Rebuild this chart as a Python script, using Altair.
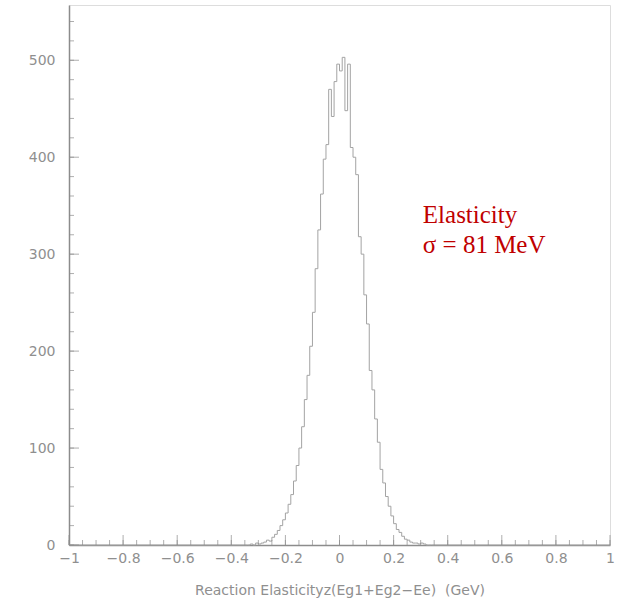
import altair as alt
import numpy as np
import pandas as pd

# Histogram: left bin edges (GeV) and counts, bin width 0.01
bin_left = [round(-0.35 + 0.01 * i, 2) for i in range(71)]
counts = [
    0, 0, 1, 0, 2, 1, 2, 3, 5, 4,
    8, 11, 15, 20, 26, 33, 42, 52, 66, 82,
    100, 122, 150, 175, 205, 240, 285, 325, 362, 398,
    413, 470, 442, 478, 496, 489, 503, 448, 496, 410,
    400, 382, 318, 300, 258, 228, 180, 160, 130, 106,
    78, 64, 50, 40, 30, 22, 16, 13, 9, 6,
    5, 3, 2, 2, 1, 2, 1, 0, 0, 0,
    0,
]

x_major = [-1, -0.8, -0.6, -0.4, -0.2, 0, 0.2, 0.4, 0.6, 0.8, 1]
y_major = [0, 100, 200, 300, 400, 500]
x_minor = [round(-1 + 0.05 * i, 2) for i in range(41)]
y_minor = [20 * i for i in range(28)]

ann_x = [0.308, 0.308]
ann_y = [332, 301]
ann_text = ["Elasticity", "σ = 81 MeV"]

W, H = 541, 540
GRAY = "#8c8c8c"
LBL = "#8f8f8f"
FONT = "DejaVu Sans"

hist = pd.DataFrame({"x": [-1.0] + bin_left + [1.0], "y": [0] + counts + [0]})
xs = alt.Scale(domain=[-1, 1], nice=False, zero=False)
ys = alt.Scale(domain=[0, 557], nice=False)

line = alt.Chart(hist).mark_line(interpolate="step-after", color="#a3a3a3", strokeWidth=1).encode(
    x=alt.X("x:Q", scale=xs, axis=alt.Axis(
        values=x_major, ticks=False, grid=False, domainColor=GRAY, domainWidth=1.5,
        labelColor=LBL, labelFont=FONT, labelFontSize=14, labelPadding=6,
        labelExpr="replace(format(datum.value, ''), '-', '−')",
        labelFlush=False, labelOverlap=False, labelBound=False,
        title="Reaction Elasticityz(Eg1+Eg2−Ee)\u00a0\u00a0(GeV)", titleColor=LBL, titleFont=FONT,
        titleFontSize=14, titleFontWeight="normal", titlePadding=18)),
    y=alt.Y("y:Q", scale=ys, axis=alt.Axis(
        values=y_major, ticks=False, grid=False, domainColor=GRAY, domainWidth=1.5,
        labelColor=LBL, labelFont=FONT, labelFontSize=14, labelPadding=14,
        labelFlush=False, labelOverlap=False, title=None)),
)

xmaj = alt.Chart(pd.DataFrame({"x": x_major})).mark_tick(color=GRAY, thickness=1, size=10).encode(
    x=alt.X("x:Q", scale=xs), y=alt.value(H - 5))
xmin = alt.Chart(pd.DataFrame({"x": x_minor})).mark_tick(color=GRAY, thickness=1, size=5).encode(
    x=alt.X("x:Q", scale=xs), y=alt.value(H - 2.5))
ymaj = alt.Chart(pd.DataFrame({"y": y_major})).mark_tick(color=GRAY, thickness=1, size=10).encode(
    y=alt.Y("y:Q", scale=ys), x=alt.value(5))
ymin = alt.Chart(pd.DataFrame({"y": y_minor})).mark_tick(color=GRAY, thickness=1, size=5).encode(
    y=alt.Y("y:Q", scale=ys), x=alt.value(2.5))

ann = alt.Chart(pd.DataFrame({"x": ann_x, "y": ann_y, "t": ann_text})).mark_text(
    align="left", baseline="alphabetic", font="Liberation Serif", fontSize=25, color="#c00000"
).encode(x=alt.X("x:Q", scale=xs), y=alt.Y("y:Q", scale=ys), text="t:N")

chart = alt.layer(line, xmin, xmaj, ymin, ymaj, ann).properties(
    width=W, height=H,
    autosize=alt.AutoSizeParams(type="none"),
    padding={"left": 69, "top": 5, "right": 9, "bottom": 54},
).configure_view(stroke="#cccccc", strokeWidth=2).configure(background="white")

chart.save("out.html", embed_options={"renderer": "svg", "actions": False})
